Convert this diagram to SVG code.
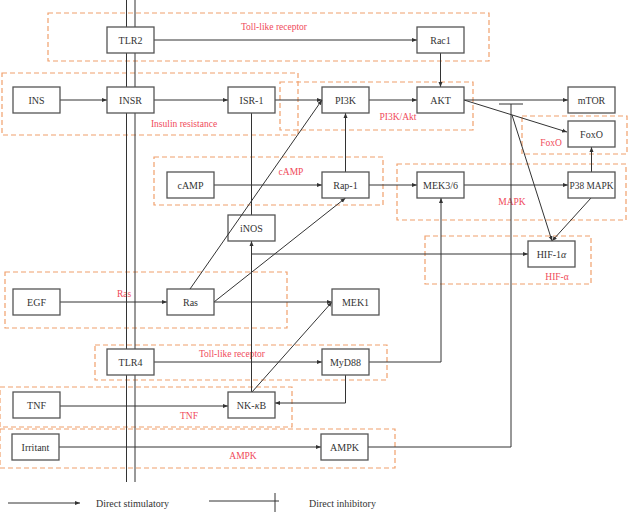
<svg xmlns="http://www.w3.org/2000/svg" width="628" height="512" viewBox="0 0 628 512">
<defs>
<marker id="ar" viewBox="0 0 10 10" refX="10" refY="5" markerWidth="5" markerHeight="5" orient="auto" markerUnits="userSpaceOnUse">
<path d="M0,1 L10,5 L0,9 Z" fill="#333"/>
</marker>
</defs>
<style>
.bg{fill:#fff}
.reg{fill:none;stroke:#f0a06c;stroke-width:1.2;stroke-dasharray:5,3}
.rl{font-family:"Liberation Serif",serif;font-size:9.5px;fill:#f04a5a;text-anchor:middle}
.box rect{fill:#fff;stroke:#555;stroke-width:1.3}
.box text{font-family:"Liberation Serif",serif;font-size:10px;fill:#333;text-anchor:middle}
.c{fill:none;stroke:#333;stroke-width:1}
.a{marker-end:url(#ar)}
.lg{font-family:"Liberation Serif",serif;font-size:10px;fill:#333}
</style>
<rect class="bg" width="628" height="512"/>
<g id="regions">
<rect class="reg" x="48" y="13" width="441" height="48"/>
<rect class="reg" x="2" y="73" width="296" height="62"/>
<rect class="reg" x="280" y="82" width="193" height="48"/>
<rect class="reg" x="154" y="157" width="229" height="48"/>
<rect class="reg" x="397" y="164" width="229" height="56"/>
<rect class="reg" x="522" y="116" width="105" height="38"/>
<rect class="reg" x="425" y="236" width="166" height="48"/>
<rect class="reg" x="5" y="272" width="282" height="56"/>
<rect class="reg" x="95" y="345" width="292" height="35"/>
<rect class="reg" x="0" y="387" width="292" height="40"/>
<rect class="reg" x="0" y="429" width="395" height="39"/>
<text class="rl" x="274" y="30">Toll-like receptor</text>
<text class="rl" x="184" y="127">Insulin resistance</text>
<text class="rl" x="398" y="120">PI3K/Akt</text>
<text class="rl" x="291" y="175">cAMP</text>
<text class="rl" x="512" y="205">MAPK</text>
<text class="rl" x="551" y="146">FoxO</text>
<text class="rl" x="557" y="280">HIF-α</text>
<text class="rl" x="124" y="297">Ras</text>
<text class="rl" x="232" y="357">Toll-like receptor</text>
<text class="rl" x="189" y="419">TNF</text>
<text class="rl" x="243" y="459">AMPK</text>
</g>
<g id="connectors">
<line class="c" x1="126.5" y1="0" x2="126.5" y2="482"/>
<line class="c" x1="135" y1="0" x2="135" y2="482"/>
<line class="c a" x1="154" y1="40" x2="417" y2="40"/>
<line class="c a" x1="440.5" y1="53" x2="440.5" y2="87"/>
<line class="c a" x1="60" y1="100" x2="107" y2="100"/>
<line class="c a" x1="154" y1="100" x2="228" y2="100"/>
<line class="c a" x1="275" y1="100" x2="322" y2="100"/>
<line class="c a" x1="369" y1="100" x2="417" y2="100"/>
<line class="c a" x1="464" y1="100" x2="568" y2="100"/>
<line class="c a" x1="464" y1="100" x2="567" y2="132"/>
<line class="c a" x1="512" y1="115" x2="552" y2="241"/>
<polyline class="c" points="368,447 511,447 511,104"/>
<line class="c" x1="499" y1="104" x2="523" y2="104"/>
<line class="c a" x1="214" y1="185" x2="322" y2="185"/>
<line class="c a" x1="345.5" y1="172" x2="345.5" y2="113"/>
<line class="c a" x1="369" y1="185" x2="417" y2="185"/>
<line class="c a" x1="464" y1="185" x2="568" y2="185"/>
<line class="c a" x1="591.5" y1="172" x2="591.5" y2="147"/>
<line class="c a" x1="591" y1="198" x2="552" y2="241"/>
<line class="c" x1="251.5" y1="113" x2="251.5" y2="215"/>
<line class="c a" x1="251.5" y1="392" x2="251.5" y2="241"/>
<line class="c a" x1="251.5" y1="254" x2="528" y2="254"/>
<line class="c a" x1="214" y1="302" x2="345.5" y2="198"/>
<line class="c a" x1="60" y1="302" x2="167" y2="302"/>
<line class="c a" x1="214" y1="302" x2="332" y2="302"/>
<line class="c a" x1="252" y1="392" x2="332" y2="302"/>
<line class="c a" x1="154" y1="362" x2="322" y2="362"/>
<polyline class="c a" points="369,362 441,362 441,198"/>
<polyline class="c a" points="345.5,375 345.5,403 275,403"/>
<line class="c a" x1="60" y1="406" x2="228" y2="406"/>
<line class="c a" x1="59" y1="447" x2="321" y2="447"/>
</g>
<g id="TLR2" class="box"><rect x="107" y="27" width="47" height="26"/><text x="130.5" y="43.5">TLR2</text></g>
<g id="Rac1" class="box"><rect x="417" y="27" width="47" height="26"/><text x="440.5" y="43.5">Rac1</text></g>
<g id="INS" class="box"><rect x="13" y="87" width="47" height="26"/><text x="36.5" y="103.5">INS</text></g>
<g id="INSR" class="box"><rect x="107" y="87" width="47" height="26"/><text x="130.5" y="103.5">INSR</text></g>
<g id="ISR-1" class="box"><rect x="228" y="87" width="47" height="26"/><text x="251.5" y="103.5">ISR-1</text></g>
<g id="PI3K" class="box"><rect x="322" y="87" width="47" height="26"/><text x="345.5" y="103.5">PI3K</text></g>
<g id="AKT" class="box"><rect x="417" y="87" width="47" height="26"/><text x="440.5" y="103.5">AKT</text></g>
<g id="mTOR" class="box"><rect x="568" y="87" width="47" height="26"/><text x="591.5" y="103.5">mTOR</text></g>
<g id="FoxO" class="box"><rect x="568" y="121" width="47" height="26"/><text x="591.5" y="137.5">FoxO</text></g>
<g id="cAMP" class="box"><rect x="167" y="172" width="47" height="26"/><text x="190.5" y="188.5">cAMP</text></g>
<g id="Rap-1" class="box"><rect x="322" y="172" width="47" height="26"/><text x="345.5" y="188.5">Rap-1</text></g>
<g id="MEK3-6" class="box"><rect x="417" y="172" width="47" height="26"/><text x="440.5" y="188.5">MEK3/6</text></g>
<g id="P38MAPK" class="box"><rect x="568" y="172" width="47" height="26"/><text x="591.5" y="188.5" textLength="44" lengthAdjust="spacingAndGlyphs">P38 MAPK</text></g>
<g id="iNOS" class="box"><rect x="228" y="215" width="47" height="26"/><text x="251.5" y="231.5">iNOS</text></g>
<g id="HIF-1a" class="box"><rect x="528" y="241" width="47" height="26"/><text x="551.5" y="257.5">HIF-1<tspan font-style="italic">α</tspan></text></g>
<g id="EGF" class="box"><rect x="13" y="289" width="47" height="26"/><text x="36.5" y="305.5">EGF</text></g>
<g id="Ras" class="box"><rect x="167" y="289" width="47" height="26"/><text x="190.5" y="305.5">Ras</text></g>
<g id="MEK1" class="box"><rect x="332" y="289" width="47" height="26"/><text x="355.5" y="305.5">MEK1</text></g>
<g id="TLR4" class="box"><rect x="107" y="349" width="47" height="26"/><text x="130.5" y="365.5">TLR4</text></g>
<g id="MyD88" class="box"><rect x="322" y="349" width="47" height="26"/><text x="345.5" y="365.5">MyD88</text></g>
<g id="TNF" class="box"><rect x="13" y="392" width="47" height="26"/><text x="36.5" y="408.5">TNF</text></g>
<g id="NK-kB" class="box"><rect x="228" y="392" width="47" height="26"/><text x="251.5" y="408.5">NK-<tspan font-style="italic">κ</tspan>B</text></g>
<g id="Irritant" class="box"><rect x="12" y="434" width="47" height="26"/><text x="35.5" y="450.5">Irritant</text></g>
<g id="AMPK" class="box"><rect x="321" y="434" width="47" height="26"/><text x="344.5" y="450.5">AMPK</text></g>
<g id="connectors-over">
<line class="c a" x1="190" y1="289" x2="322" y2="100"/>
</g>
<g id="legend">
<line class="c a" x1="8" y1="503" x2="80" y2="503"/>
<text class="lg" x="96" y="506.5">Direct stimulatory</text>
<line class="c" x1="209" y1="501" x2="279" y2="501"/>
<line class="c" x1="275" y1="493" x2="275" y2="512"/>
<text class="lg" x="309" y="506.5">Direct inhibitory</text>
</g>
</svg>
